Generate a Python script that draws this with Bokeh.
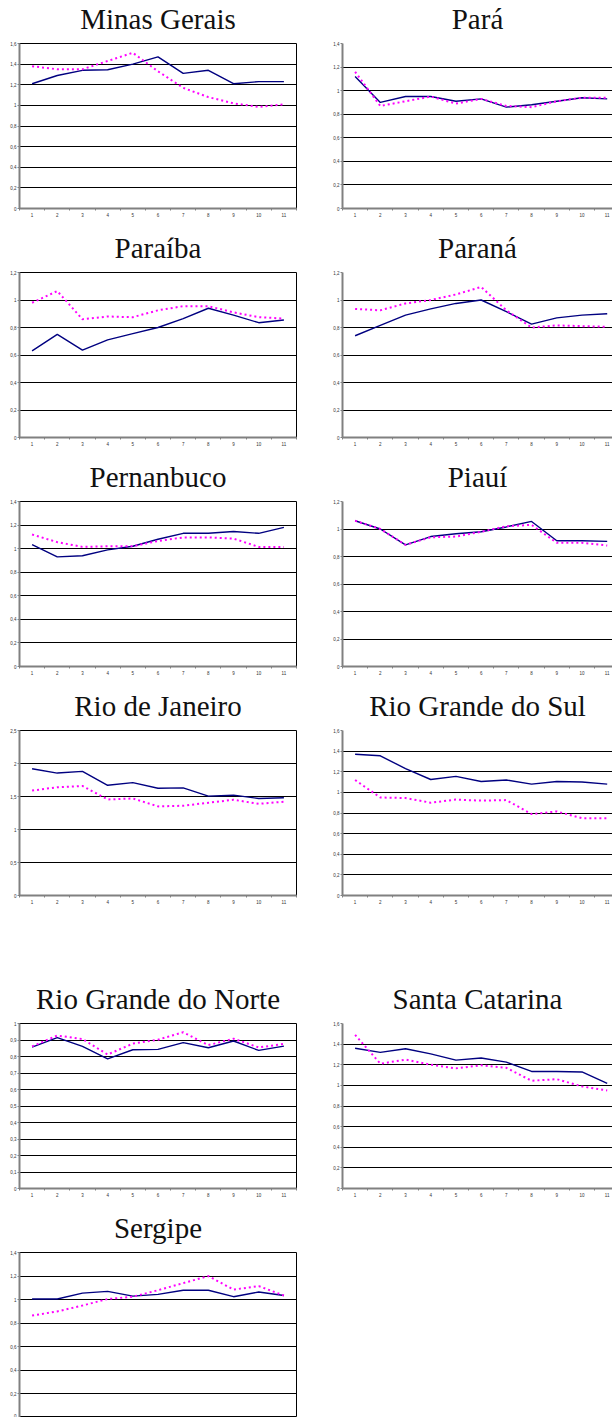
from bokeh.plotting import figure
from bokeh.layouts import column, row
from bokeh.models import FixedTicker, CustomJSTickFormatter, Range1d, Title
from bokeh.embed import file_html
from bokeh.resources import INLINE

# ---------------- data ----------------
periods = [1, 2, 3, 4, 5, 6, 7, 8, 9, 10, 11]
period_edges = [0.5, 1.5, 2.5, 3.5, 4.5, 5.5, 6.5, 7.5, 8.5, 9.5, 10.5, 11.5]

mg_title = "Minas Gerais"
mg_solid = [1.21, 1.29, 1.34, 1.345, 1.40, 1.47, 1.31, 1.34, 1.21, 1.23, 1.23]
mg_dotted = [1.38, 1.35, 1.35, 1.43, 1.51, 1.33, 1.17, 1.08, 1.02, 0.985, 1.01]
mg_yticks = [0, 0.2, 0.4, 0.6, 0.8, 1.0, 1.2, 1.4, 1.6]

pa_title = "Pará"
pa_solid = [1.12, 0.90, 0.95, 0.95, 0.91, 0.93, 0.86, 0.88, 0.91, 0.94, 0.93]
pa_dotted = [1.16, 0.87, 0.91, 0.95, 0.89, 0.93, 0.87, 0.86, 0.91, 0.94, 0.94]
pa_yticks = [0, 0.2, 0.4, 0.6, 0.8, 1.0, 1.2, 1.4]

pb_title = "Paraíba"
pb_solid = [0.63, 0.75, 0.635, 0.71, 0.755, 0.80, 0.865, 0.94, 0.89, 0.835, 0.855]
pb_dotted = [0.98, 1.065, 0.86, 0.88, 0.875, 0.925, 0.955, 0.955, 0.91, 0.875, 0.865]
pb_yticks = [0, 0.2, 0.4, 0.6, 0.8, 1.0, 1.2]

pr_title = "Paraná"
pr_solid = [0.74, 0.815, 0.89, 0.935, 0.975, 1.0, 0.915, 0.825, 0.87, 0.89, 0.90]
pr_dotted = [0.935, 0.925, 0.975, 1.0, 1.04, 1.095, 0.925, 0.80, 0.815, 0.81, 0.805]
pr_yticks = [0, 0.2, 0.4, 0.6, 0.8, 1.0, 1.2]

pe_title = "Pernanbuco"
pe_solid = [1.035, 0.93, 0.94, 0.99, 1.02, 1.08, 1.13, 1.13, 1.145, 1.13, 1.18]
pe_dotted = [1.12, 1.055, 1.015, 1.02, 1.02, 1.065, 1.095, 1.095, 1.085, 1.015, 1.015]
pe_yticks = [0, 0.2, 0.4, 0.6, 0.8, 1.0, 1.2, 1.4]

pi_title = "Piauí"
pi_solid = [1.06, 1.0, 0.885, 0.945, 0.965, 0.98, 1.015, 1.055, 0.915, 0.915, 0.91]
pi_dotted = [1.06, 1.0, 0.885, 0.94, 0.945, 0.98, 1.02, 1.03, 0.90, 0.90, 0.88]
pi_yticks = [0, 0.2, 0.4, 0.6, 0.8, 1.0, 1.2]

rj_title = "Rio de Janeiro"
rj_solid = [1.92, 1.855, 1.88, 1.67, 1.71, 1.625, 1.63, 1.505, 1.52, 1.47, 1.48]
rj_dotted = [1.59, 1.64, 1.66, 1.455, 1.47, 1.35, 1.36, 1.405, 1.45, 1.39, 1.42]
rj_yticks = [0, 0.5, 1.0, 1.5, 2.0, 2.5]

rs_title = "Rio Grande do Sul"
rs_solid = [1.37, 1.355, 1.23, 1.125, 1.155, 1.105, 1.12, 1.08, 1.105, 1.10, 1.08]
rs_dotted = [1.12, 0.95, 0.945, 0.90, 0.93, 0.92, 0.925, 0.79, 0.815, 0.75, 0.75]
rs_yticks = [0, 0.2, 0.4, 0.6, 0.8, 1.0, 1.2, 1.4, 1.6]

rn_title = "Rio Grande do Norte"
rn_solid = [0.857, 0.914, 0.861, 0.786, 0.841, 0.843, 0.884, 0.853, 0.894, 0.837, 0.863]
rn_dotted = [0.861, 0.927, 0.906, 0.812, 0.878, 0.902, 0.947, 0.869, 0.908, 0.855, 0.876]
rn_yticks = [0, 0.1, 0.2, 0.3, 0.4, 0.5, 0.6, 0.7, 0.8, 0.9, 1.0]

sc_title = "Santa Catarina"
sc_solid = [1.36, 1.32, 1.355, 1.305, 1.245, 1.265, 1.225, 1.135, 1.135, 1.13, 1.02]
sc_dotted = [1.49, 1.21, 1.25, 1.20, 1.165, 1.195, 1.17, 1.045, 1.06, 0.99, 0.95]
sc_yticks = [0, 0.2, 0.4, 0.6, 0.8, 1.0, 1.2, 1.4, 1.6]

se_title = "Sergipe"
se_solid = [1.005, 1.005, 1.055, 1.07, 1.03, 1.045, 1.08, 1.08, 1.025, 1.065, 1.035]
se_dotted = [0.865, 0.90, 0.95, 1.005, 1.025, 1.08, 1.14, 1.20, 1.085, 1.115, 1.035]
se_yticks = [0, 0.2, 0.4, 0.6, 0.8, 1.0, 1.2, 1.4]

SOLID_COLOR = "#000080"
DOTTED_COLOR = "#FF00FF"
AXIS_COLOR = "#808080"
TICK_TEXT = "#333333"

fmt = CustomJSTickFormatter(code="return (Math.round(tick*10)/10).toString().replace('.', ',');")


def panel(name, solid, dotted, yticks, side, height=229, bottom=21, show_x=True):
    if side == "left":
        width, left, right = 306, 19, 10
        xr = Range1d(0.5, 11.5)
    else:
        width, left, right = 306, 36, 0
        xr = Range1d(0.5, 11.21)
    p = figure(width=width, height=height, x_range=xr,
               y_range=Range1d(yticks[0], yticks[-1]),
               output_backend="svg", toolbar_location=None, title=name,
               min_border_left=left, min_border_right=right,
               min_border_top=43, min_border_bottom=bottom)
    p.title.align = "center"
    p.title.vertical_align = "top"
    p.title.text_font = "Liberation Serif"
    p.title.text_font_size = "29px"
    p.title.text_font_style = "normal"
    p.title.text_color = "#111111"
    p.title.standoff = 0
    # thin spacer between the title and the plot frame
    p.add_layout(Title(text=" ", text_font_size="1px", standoff=4), "above")
    p.background_fill_color = "white"
    p.border_fill_color = "white"
    if side == "left":
        p.outline_line_color = "black"
        p.outline_line_width = 1
    else:
        p.outline_line_color = None

    # grid
    p.xgrid.visible = False
    p.ygrid.ticker = FixedTicker(ticks=yticks)
    p.ygrid.grid_line_color = "black"
    p.ygrid.grid_line_width = 1

    # y axis
    ya = p.yaxis[0]
    ya.ticker = FixedTicker(ticks=yticks)
    ya.formatter = fmt
    ya.axis_line_color = AXIS_COLOR
    ya.axis_line_width = 2
    ya.major_tick_line_color = AXIS_COLOR
    ya.major_tick_out = 2
    ya.major_tick_in = 0
    ya.minor_tick_line_color = None
    ya.major_label_text_font = "Liberation Sans"
    ya.major_label_text_font_size = "4.5px"
    ya.major_label_text_color = TICK_TEXT
    ya.major_label_standoff = 1

    # x axis: labels at categories, tick marks between categories
    xa = p.xaxis[0]
    if show_x:
        xa.ticker = FixedTicker(ticks=periods, minor_ticks=period_edges)
        xa.axis_line_color = AXIS_COLOR
        xa.axis_line_width = 2
        xa.major_tick_line_color = None
        xa.major_tick_out = 2
        xa.major_tick_in = 0
        xa.minor_tick_line_color = AXIS_COLOR
        xa.minor_tick_out = 2
        xa.minor_tick_in = 0
        xa.major_label_text_font = "Liberation Sans"
        xa.major_label_text_font_size = "4.5px"
        xa.major_label_text_color = TICK_TEXT
        xa.major_label_standoff = 2
    else:
        xa.visible = False

    p.line(periods, solid, line_color=SOLID_COLOR, line_width=1.4)
    p.line(periods, dotted, line_color=DOTTED_COLOR, line_width=2, line_dash="2 3")
    return p


f1 = panel(mg_title, mg_solid, mg_dotted, mg_yticks, "left")
f2 = panel(pa_title, pa_solid, pa_dotted, pa_yticks, "right")
f3 = panel(pb_title, pb_solid, pb_dotted, pb_yticks, "left")
f4 = panel(pr_title, pr_solid, pr_dotted, pr_yticks, "right")
f5 = panel(pe_title, pe_solid, pe_dotted, pe_yticks, "left")
f6 = panel(pi_title, pi_solid, pi_dotted, pi_yticks, "right")
f7 = panel(rj_title, rj_solid, rj_dotted, rj_yticks, "left", height=293, bottom=85)
f8 = panel(rs_title, rs_solid, rs_dotted, rs_yticks, "right", height=293, bottom=85)
f9 = panel(rn_title, rn_solid, rn_dotted, rn_yticks, "left")
f10 = panel(sc_title, sc_solid, sc_dotted, sc_yticks, "right")
f11 = panel(se_title, se_solid, se_dotted, se_yticks, "left", height=208, bottom=0,
            show_x=False)

layout = column(row(f1, f2), row(f3, f4), row(f5, f6), row(f7, f8), row(f9, f10), row(f11))

open("out.html", "w").write(file_html(layout, INLINE))
